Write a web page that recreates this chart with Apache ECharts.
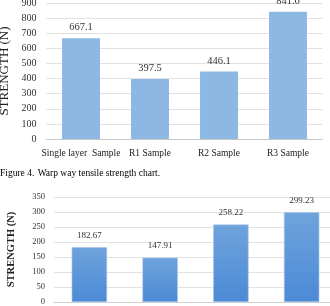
<!DOCTYPE html>
<html>
<head>
<meta charset="utf-8">
<script src="https://cdn.jsdelivr.net/npm/echarts@6/dist/echarts.min.js"></script>
<style>
  html, body { margin: 0; padding: 0; background: #fff; }
  #chart { width: 330px; height: 306px; }
</style>
</head>
<body>
<div id="chart"></div>
<script>
  // data
  var categories = ['Single layer  Sample', 'R1 Sample', 'R2 Sample', 'R3 Sample']
  var warpValues = [667.1, 397.5, 446.1, 841.6]
  var weftValues = [182.67, 147.91, 258.22, 299.23]
  var warpTicks = [0, 900, 100]   // min, max, interval
  var weftTicks = [0, 350, 50]

  var serif = '"Liberation Serif", "DejaVu Serif", serif'
  var myChart = echarts.init(document.getElementById('chart'))

  myChart.setOption({
    animation: false,
    grid: [
      { left: 46.5, top: 3, width: 276, height: 136, outerBoundsMode: 'none' },
      { left: 54, top: 197, width: 283, height: 105, outerBoundsMode: 'none' }
    ],
    graphic: [{
      type: 'text',
      left: 0,
      top: 167,
      style: {
        text: '{a|Figure 4.} {b|Warp way tensile strength chart.}',
        rich: {
          a: { fontFamily: serif, fontSize: 9.5, color: '#a3343a' },
          b: { fontFamily: serif, fontSize: 9.5, color: '#333' }
        }
      }
    }],
    xAxis: [
      {
        gridIndex: 0,
        type: 'category',
        data: categories,
        axisTick: { show: false },
        axisLine: { lineStyle: { color: '#c8c8c8' } },
        axisLabel: { interval: 0, fontFamily: serif, fontSize: 9.5, color: '#222', margin: 9 }
      },
      {
        gridIndex: 1,
        type: 'category',
        data: categories,
        axisTick: { show: false },
        axisLine: { lineStyle: { color: '#d0d0d0' } },
        axisLabel: { interval: 0, fontFamily: serif, fontSize: 9, color: '#222' }
      }
    ],
    yAxis: [
      {
        gridIndex: 0,
        type: 'value',
        min: warpTicks[0],
        max: warpTicks[1],
        interval: warpTicks[2],
        name: 'STRENGTH (N)',
        nameLocation: 'middle',
        nameGap: 28,
        nameTextStyle: { fontFamily: serif, fontSize: 13, color: '#222' },
        axisLine: { show: false },
        axisTick: { show: false },
        splitLine: { lineStyle: { color: '#e2e2e2' } },
        axisLabel: { fontFamily: serif, fontSize: 10, color: '#333', margin: 10 }
      },
      {
        gridIndex: 1,
        type: 'value',
        min: weftTicks[0],
        max: weftTicks[1],
        interval: weftTicks[2],
        name: 'STRENGTH (N)',
        nameLocation: 'middle',
        nameGap: 37,
        nameTextStyle: { fontFamily: serif, fontSize: 10.5, fontWeight: 'bold', color: '#222' },
        axisLine: { show: false },
        axisTick: { show: false },
        splitLine: { lineStyle: { color: '#e2e2e2' } },
        axisLabel: { fontFamily: serif, fontSize: 8.5, color: '#333', margin: 9 }
      }
    ],
    series: [
      {
        name: 'warp',
        type: 'bar',
        xAxisIndex: 0,
        yAxisIndex: 0,
        data: warpValues,
        barWidth: '55%',
        itemStyle: { color: '#8db8e3' },
        label: { show: true, position: 'top', distance: 5, fontFamily: serif, fontSize: 10.5, color: '#333' }
      },
      {
        name: 'weft',
        type: 'bar',
        xAxisIndex: 1,
        yAxisIndex: 1,
        data: weftValues,
        barWidth: '50%',
        itemStyle: {
          color: new echarts.graphic.LinearGradient(0, 0, 0, 1, [
            { offset: 0, color: '#6fa3dc' },
            { offset: 1, color: '#4c8ad6' }
          ]),
          borderColor: '#a9c8ec',
          borderWidth: 0.6
        },
        label: { show: true, position: 'top', distance: 7, fontFamily: serif, fontSize: 9, color: '#333' }
      }
    ]
  })
</script>
</body>
</html>
